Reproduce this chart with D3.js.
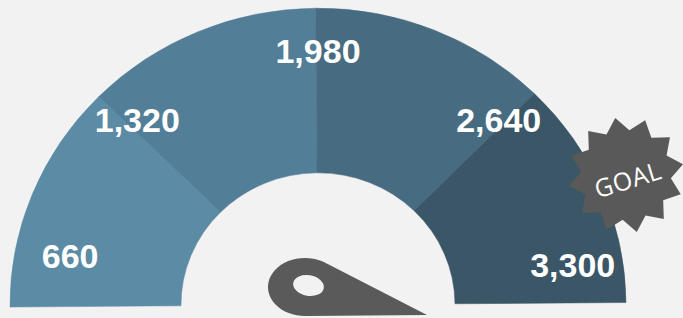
<!DOCTYPE html>
<html>
<head>
<meta charset="utf-8">
<script src="https://cdn.jsdelivr.net/npm/d3@7"></script>
<style>
  html, body { margin: 0; padding: 0; background: #f2f2f2; }
  svg { display: block; }
</style>
</head>
<body>
<svg id="chart" width="683" height="318"></svg>
<script>
// ---- data ----
const tickValues = [660, 1320, 1980, 2640, 3300];
const tickLabels = ["660", "1,320", "1,980", "2,640", "3,300"];
const segmentColors = ["#5c8ba5", "#527e98", "#476b80", "#3a5667"];
const goalLabel = "GOAL";

// ---- layout ----
const W = 683, H = 318;
const cx = 318, cy = 304.8;
const squash = 0.963, tilt = -0.42;
const outerR = 308, innerR = 137;

const svg = d3.select("#chart");
svg.append("rect").attr("width", W).attr("height", H).attr("fill", "#f2f2f2");

const angle = d3.scaleLinear()
  .domain(d3.extent(tickValues))
  .range([-Math.PI / 2, Math.PI / 2]);

const arc = d3.arc().innerRadius(innerR).outerRadius(outerR);

const g = svg.append("g")
  .attr("transform", `translate(${cx},${cy}) rotate(${tilt}) scale(1,${squash})`);

const segments = d3.pairs(tickValues).map(([a, b], i) => ({ a, b, color: segmentColors[i] }));

g.selectAll("path.seg")
  .data(segments)
  .join("path")
  .attr("class", "seg")
  .attr("fill", d => d.color)
  .attr("stroke", d => d.color)
  .attr("stroke-width", 0.5)
  .attr("d", d => arc({ startAngle: angle(d.a), endAngle: angle(d.b) }));

// ---- tick labels ----
const deg = Math.PI / 180;
const labelAngleRange = [-78.4 * deg, 80.8 * deg];
const labelPos = v => {
  let a = angle(v) * 0.96;
  let r = 264;
  if (a < labelAngleRange[0]) { a = labelAngleRange[0]; r = 253; }
  if (a > labelAngleRange[1]) { a = labelAngleRange[1]; r = 258; }
  return [cx + r * Math.sin(a), cy - r * Math.cos(a) * squash];
};

svg.selectAll("text.tick")
  .data(tickValues)
  .join("text")
  .attr("class", "tick")
  .attr("x", d => labelPos(d)[0])
  .attr("y", d => labelPos(d)[1])
  .attr("dy", "0.36em")
  .attr("text-anchor", "middle")
  .attr("fill", "#ffffff")
  .attr("font-family", "'Liberation Sans', Arial, sans-serif")
  .attr("font-weight", "bold")
  .attr("font-size", 34)
  .text((d, i) => tickLabels[i]);

// ---- needle (decorative teardrop) ----
const head = { x: 305, y: 287, rx: 37, ry: 29 };
const tip = { x: 427, y: 315 };
(function drawNeedle() {
  const tx = (tip.x - head.x) / head.rx, ty = (tip.y - head.y) / head.ry;
  const d = Math.hypot(tx, ty);
  const base = Math.atan2(ty, tx);
  const off = Math.acos(1 / d);
  const p1 = [head.x + head.rx * Math.cos(base - off), head.y + head.ry * Math.sin(base - off)];
  const p2 = [head.x + head.rx * Math.cos(base + off), head.y + head.ry * Math.sin(base + off)];
  const path = `M${tip.x},${tip.y} L${p1[0]},${p1[1]} A${head.rx},${head.ry} 0 1 0 ${p2[0]},${p2[1]} Z`;
  svg.append("path").attr("d", path).attr("fill", "#5a5a5a");
  svg.append("ellipse")
    .attr("cx", 308.5).attr("cy", 285.5).attr("rx", 15.5).attr("ry", 10.3)
    .attr("transform", "rotate(10,308.5,285.5)")
    .attr("fill", "#f2f2f2");
})();

// ---- GOAL starburst ----
const star = { x: 626, y: 175, outer: 58, inner: 45, points: 12, offset: -10.7 * deg };
const starPts = d3.range(star.points * 2).map(i => [
  star.offset + i * Math.PI / star.points,
  i % 2 === 0 ? star.outer : star.inner
]);
svg.append("path")
  .attr("transform", `translate(${star.x},${star.y})`)
  .attr("d", d3.lineRadial().curve(d3.curveLinearClosed)(starPts))
  .attr("fill", "#595959");

svg.append("text")
  .attr("transform", `translate(${star.x + 2},${star.y + 5}) rotate(-17)`)
  .attr("text-anchor", "middle")
  .attr("dy", "0.35em")
  .attr("fill", "#ffffff")
  .attr("font-family", "'Open Sans', 'DejaVu Sans', sans-serif")
  .attr("font-weight", 400)
  .attr("font-size", 25)
  .attr("letter-spacing", 0.5)
  .text(goalLabel);
</script>
</body>
</html>
